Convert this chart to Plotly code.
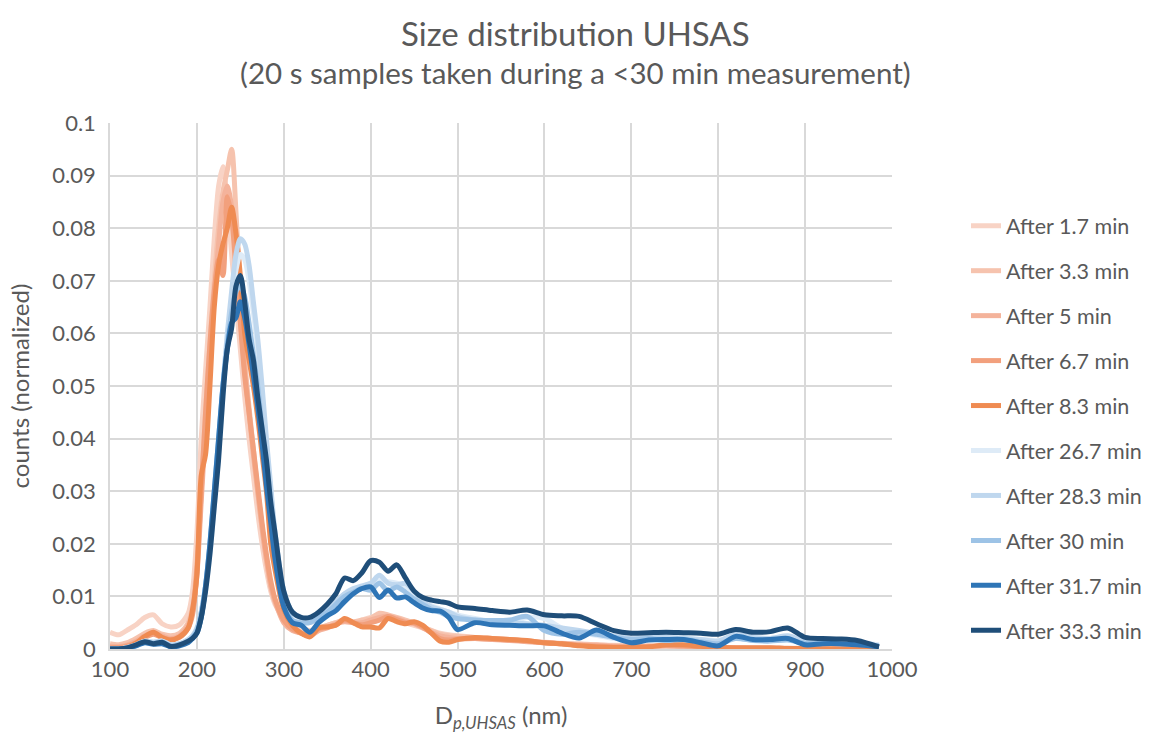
import plotly.graph_objects as go

# Particle diameter bins (nm)
diameter_nm = [100, 110, 120, 130, 140, 150, 160, 170, 180, 190, 195, 200, 205, 210, 215, 220,
               225, 230, 235, 240, 245, 250, 255, 260, 265, 270, 275, 280, 285, 290, 300, 310,
               320, 330, 340, 350, 360, 370, 380, 390, 400, 410, 420, 430, 440, 450, 460, 470,
               480, 490, 500, 520, 540, 560, 580, 600, 620, 640, 660, 680, 700, 720, 740, 760,
               780, 800, 820, 840, 860, 880, 900, 920, 940, 960, 985]

after_1_7 = [0.0032, 0.0027, 0.0036, 0.0046, 0.006, 0.0065, 0.0048, 0.0042, 0.0046, 0.0068, 0.011, 0.022, 0.04, 0.053, 0.065, 0.078,
             0.088, 0.0917, 0.085, 0.075, 0.066, 0.057, 0.048, 0.04, 0.033, 0.026, 0.02, 0.015, 0.011, 0.0085, 0.006, 0.0045,
             0.004, 0.0035, 0.004, 0.0045, 0.005, 0.0055, 0.005, 0.0055, 0.006, 0.0065, 0.006, 0.0055, 0.005, 0.0045, 0.004, 0.0035,
             0.003, 0.0027, 0.0025, 0.0022, 0.002, 0.0018, 0.0015, 0.0013, 0.0011, 0.001, 0.0008, 0.0007, 0.0006, 0.0005, 0.0005, 0.0004,
             0.0004, 0.0003, 0.0003, 0.0002, 0.0002, 0.0002, 0.0001, 0.0001, 0.0001, 0.0001, 0.0]

after_3_3 = [0.001, 0.0008, 0.0012, 0.002, 0.003, 0.0035, 0.0028, 0.0025, 0.003, 0.005, 0.008, 0.016, 0.03, 0.045, 0.058, 0.07,
             0.08, 0.087, 0.091, 0.095, 0.083, 0.068, 0.055, 0.046, 0.038, 0.03, 0.023, 0.017, 0.012, 0.009, 0.0055, 0.004,
             0.0032, 0.003, 0.0038, 0.0045, 0.005, 0.0055, 0.0052, 0.0055, 0.0058, 0.0068, 0.0065, 0.006, 0.0055, 0.005, 0.0042, 0.0035,
             0.0028, 0.0025, 0.0024, 0.0022, 0.002, 0.0018, 0.0015, 0.0012, 0.001, 0.0009, 0.0008, 0.0006, 0.0005, 0.0005, 0.0006, 0.0005,
             0.0004, 0.0003, 0.0003, 0.0002, 0.0002, 0.0001, 0.0001, 0.0, 0.0, 0.0, 0.0]

after_5 = [0.0005, 0.0005, 0.0008, 0.0015, 0.0025, 0.003, 0.0025, 0.002, 0.0025, 0.0045, 0.007, 0.014, 0.028, 0.042, 0.055, 0.067,
           0.077, 0.085, 0.088, 0.084, 0.074, 0.063, 0.053, 0.045, 0.037, 0.03, 0.023, 0.017, 0.012, 0.009, 0.005, 0.0035,
           0.003, 0.0025, 0.0035, 0.004, 0.0048, 0.0052, 0.005, 0.005, 0.0055, 0.006, 0.0062, 0.0058, 0.0052, 0.0048, 0.004, 0.0032,
           0.0025, 0.0022, 0.002, 0.002, 0.0018, 0.0016, 0.0014, 0.0012, 0.001, 0.0008, 0.0007, 0.0005, 0.0005, 0.0005, 0.0006, 0.0005,
           0.0004, 0.0003, 0.0003, 0.0002, 0.0002, 0.0001, 0.0001, 0.0, 0.0, 0.0, 0.0]

after_6_7 = [0.0003, 0.0003, 0.0006, 0.0012, 0.0022, 0.0028, 0.0022, 0.0018, 0.0022, 0.004, 0.0065, 0.015, 0.03, 0.045, 0.058, 0.068,
             0.074, 0.071, 0.086, 0.082, 0.072, 0.062, 0.052, 0.045, 0.038, 0.031, 0.024, 0.018, 0.013, 0.0095, 0.0055, 0.0038,
             0.003, 0.0025, 0.0038, 0.0042, 0.0046, 0.0055, 0.005, 0.0046, 0.005, 0.0055, 0.0062, 0.0056, 0.005, 0.005, 0.0042, 0.003,
             0.002, 0.0017, 0.0019, 0.002, 0.0019, 0.0017, 0.0015, 0.0012, 0.001, 0.0007, 0.0005, 0.0004, 0.0004, 0.0005, 0.0007, 0.0006,
             0.0004, 0.0003, 0.0002, 0.0002, 0.0002, 0.0001, 0.0001, 0.0, 0.0, 0.0, 0.0]

after_8_3 = [0.0, 0.0, 0.0003, 0.0011, 0.0024, 0.0032, 0.0022, 0.0017, 0.0023, 0.004, 0.0075, 0.014, 0.033, 0.037, 0.05, 0.065,
             0.073, 0.077, 0.08, 0.084, 0.079, 0.071, 0.06, 0.055, 0.05, 0.044, 0.037, 0.03, 0.02, 0.015, 0.0075, 0.0045,
             0.003, 0.0023, 0.004, 0.0042, 0.0045, 0.0058, 0.005, 0.0042, 0.0042, 0.004, 0.0058, 0.0052, 0.0048, 0.0052, 0.0045, 0.003,
             0.0015, 0.0013, 0.0018, 0.0022, 0.002, 0.0018, 0.0016, 0.0012, 0.001, 0.0006, 0.0004, 0.0003, 0.0003, 0.0004, 0.0008, 0.0008,
             0.0005, 0.0003, 0.0002, 0.0002, 0.0002, 0.0001, 0.0001, 0.0, 0.0, 0.0, 0.0]

after_26_7 = [0.0, 0.0, 0.0003, 0.0008, 0.0015, 0.0013, 0.0015, 0.0008, 0.001, 0.0018, 0.0025, 0.0035, 0.006, 0.011, 0.018, 0.027,
              0.037, 0.048, 0.058, 0.066, 0.072, 0.075, 0.074, 0.07, 0.064, 0.057, 0.048, 0.039, 0.03, 0.022, 0.011, 0.007,
              0.0058, 0.0055, 0.006, 0.0072, 0.0088, 0.0105, 0.0112, 0.0118, 0.0125, 0.013, 0.0128, 0.0125, 0.012, 0.0105, 0.0092, 0.0082,
              0.0076, 0.007, 0.0065, 0.0058, 0.0052, 0.005, 0.006, 0.0058, 0.004, 0.0032, 0.0026, 0.002, 0.0018, 0.0022, 0.0025, 0.0022,
              0.0018, 0.0016, 0.0025, 0.0022, 0.002, 0.0022, 0.0016, 0.0014, 0.0013, 0.0012, 0.0008]

after_28_3 = [0.0, 0.0, 0.0003, 0.0008, 0.0015, 0.0013, 0.0015, 0.0008, 0.001, 0.0018, 0.0025, 0.004, 0.007, 0.012, 0.019, 0.028,
              0.038, 0.05, 0.06, 0.068, 0.075, 0.078, 0.077, 0.073, 0.066, 0.059, 0.05, 0.04, 0.031, 0.022, 0.011, 0.007,
              0.006, 0.0055, 0.0065, 0.0075, 0.009, 0.0105, 0.0115, 0.012, 0.0125, 0.014, 0.0125, 0.0122, 0.0125, 0.011, 0.009, 0.008,
              0.0075, 0.007, 0.0062, 0.0055, 0.005, 0.005, 0.0048, 0.0045, 0.004, 0.0035, 0.003, 0.0025, 0.002, 0.0022, 0.0022, 0.002,
              0.0018, 0.0015, 0.0028, 0.0022, 0.002, 0.0025, 0.0015, 0.0013, 0.0012, 0.001, 0.0006]

after_30 = [0.0, 0.0, 0.0002, 0.0007, 0.0013, 0.0011, 0.0013, 0.0006, 0.0008, 0.0015, 0.0022, 0.0035, 0.007, 0.012, 0.02, 0.03,
            0.04, 0.05, 0.058, 0.064, 0.068, 0.069, 0.067, 0.062, 0.056, 0.05, 0.042, 0.034, 0.026, 0.019, 0.009, 0.0055,
            0.005, 0.005, 0.006, 0.007, 0.0085, 0.01, 0.0108, 0.0115, 0.0112, 0.0125, 0.011, 0.0118, 0.0108, 0.0095, 0.0085, 0.0075,
            0.007, 0.0062, 0.0058, 0.0055, 0.0054, 0.0055, 0.0062, 0.0035, 0.0028, 0.0032, 0.0028, 0.0022, 0.0018, 0.002, 0.0016, 0.0018,
            0.0014, 0.001, 0.002, 0.0016, 0.0015, 0.0017, 0.0011, 0.0011, 0.001, 0.0009, 0.0006]

after_31_7 = [0.0, 0.0, 0.0002, 0.0006, 0.0012, 0.0009, 0.001, 0.0004, 0.0006, 0.0012, 0.002, 0.003, 0.006, 0.012, 0.02, 0.03,
              0.04, 0.05, 0.057, 0.062, 0.063, 0.066, 0.063, 0.058, 0.052, 0.046, 0.039, 0.031, 0.024, 0.017, 0.008, 0.005,
              0.0045, 0.0032, 0.005, 0.0063, 0.0073, 0.009, 0.0105, 0.0115, 0.0118, 0.0098, 0.0112, 0.0097, 0.0099, 0.0088, 0.0078, 0.0073,
              0.0072, 0.006, 0.0037, 0.005, 0.0046, 0.0045, 0.0044, 0.0044, 0.003, 0.0021, 0.0036, 0.0022, 0.0012, 0.0017, 0.0018, 0.0018,
              0.0012, 0.0006, 0.0024, 0.0018, 0.0018, 0.002, 0.0008, 0.001, 0.001, 0.0008, 0.0004]

after_33_3 = [0.0, 0.0, 0.0002, 0.0008, 0.0014, 0.001, 0.0013, 0.0005, 0.0008, 0.0015, 0.002, 0.003, 0.006, 0.011, 0.018, 0.027,
              0.036, 0.048, 0.057, 0.061, 0.069, 0.071, 0.066, 0.059, 0.055, 0.048, 0.042, 0.036, 0.028, 0.022, 0.011, 0.007,
              0.006, 0.006, 0.007, 0.0085, 0.0105, 0.0135, 0.013, 0.0145, 0.0168, 0.0165, 0.0148, 0.016, 0.0135, 0.011, 0.0098, 0.0093,
              0.009, 0.0087, 0.008, 0.0077, 0.0073, 0.007, 0.0074, 0.0065, 0.0063, 0.0062, 0.0048, 0.0035, 0.003, 0.0031, 0.0032, 0.0031,
              0.003, 0.0028, 0.0037, 0.0032, 0.0033, 0.004, 0.0022, 0.002, 0.0019, 0.0016, 0.0004]

series_names = ["After 1.7 min", "After 3.3 min", "After 5 min", "After 6.7 min", "After 8.3 min",
                "After 26.7 min", "After 28.3 min", "After 30 min", "After 31.7 min", "After 33.3 min"]
series_values = [after_1_7, after_3_3, after_5, after_6_7, after_8_3,
                 after_26_7, after_28_3, after_30, after_31_7, after_33_3]
series_colors = ["#f8d3c5", "#f6c3ae", "#f4b39b", "#f2a07d", "#ef8b52",
                 "#deebf7", "#bfd7ee", "#9dc3e6", "#2e75b6", "#1f4e79"]

x_ticks = [100, 200, 300, 400, 500, 600, 700, 800, 900, 1000]
y_ticks = [0, 0.01, 0.02, 0.03, 0.04, 0.05, 0.06, 0.07, 0.08, 0.09, 0.1]
y_tick_labels = ["0", "0.01", "0.02", "0.03", "0.04", "0.05", "0.06", "0.07", "0.08", "0.09", "0.1"]

FONT = "Lato, 'Liberation Sans', sans-serif"
GREY = "#595959"
GRID = "#d9d9d9"

fig = go.Figure()
for name, vals, col in zip(series_names, series_values, series_colors):
    fig.add_trace(go.Scatter(
        x=diameter_nm, y=vals, name=name, mode="lines",
        line=dict(color=col, width=5, shape="spline", smoothing=0.8),
        legendgroup=name,
    ))

fig.update_layout(
    width=1156, height=735,
    margin=dict(l=110, r=264, t=123, b=86, autoexpand=False),
    paper_bgcolor="white", plot_bgcolor="white",
    font=dict(family=FONT, color=GREY, size=22),
    showlegend=True,
    legend=dict(x=(966 - 110) / 782, y=0.8436, xanchor="left", yanchor="top",
                font=dict(family=FONT, size=21.5, color=GREY),
                tracegroupgap=14, bgcolor="rgba(0,0,0,0)"),
    xaxis=dict(range=[100, 1000], tickvals=x_ticks, showgrid=True, gridcolor=GRID, gridwidth=1.5,
               showline=True, linecolor=GRID, linewidth=1.5, zeroline=False, ticks="",
               tickfont=dict(size=22, color=GREY, family=FONT),
               title=dict(text="D<sub><i>p,UHSAS</i></sub> (nm)", font=dict(size=24, color=GREY, family=FONT), standoff=26)),
    yaxis=dict(range=[0, 0.1], tickvals=y_ticks, ticktext=y_tick_labels, showgrid=True, gridcolor=GRID, gridwidth=1.5,
               showline=True, linecolor=GRID, linewidth=1.5, zeroline=False, ticks="",
               tickfont=dict(size=22, color=GREY, family=FONT), ticklabelstandoff=8,
               title=dict(text="counts (normalized)", font=dict(size=24, color=GREY, family=FONT), standoff=16)),
    annotations=[
        dict(text="Size distribution UHSAS", xref="paper", yref="paper", x=0.595, y=1.0 + (123 - 33) / 526,
             xanchor="center", yanchor="middle", showarrow=False, font=dict(size=33, color=GREY, family=FONT)),
        dict(text="(20 s samples taken during a <30 min measurement)", xref="paper", yref="paper", x=0.595,
             y=1.0 + (123 - 72) / 526, xanchor="center", yanchor="middle", showarrow=False,
             font=dict(size=29.5, color=GREY, family=FONT)),
    ],
)

fig.write_html("out.html", config={"displayModeBar": False},
               post_script="document.body.style.margin='0';")
